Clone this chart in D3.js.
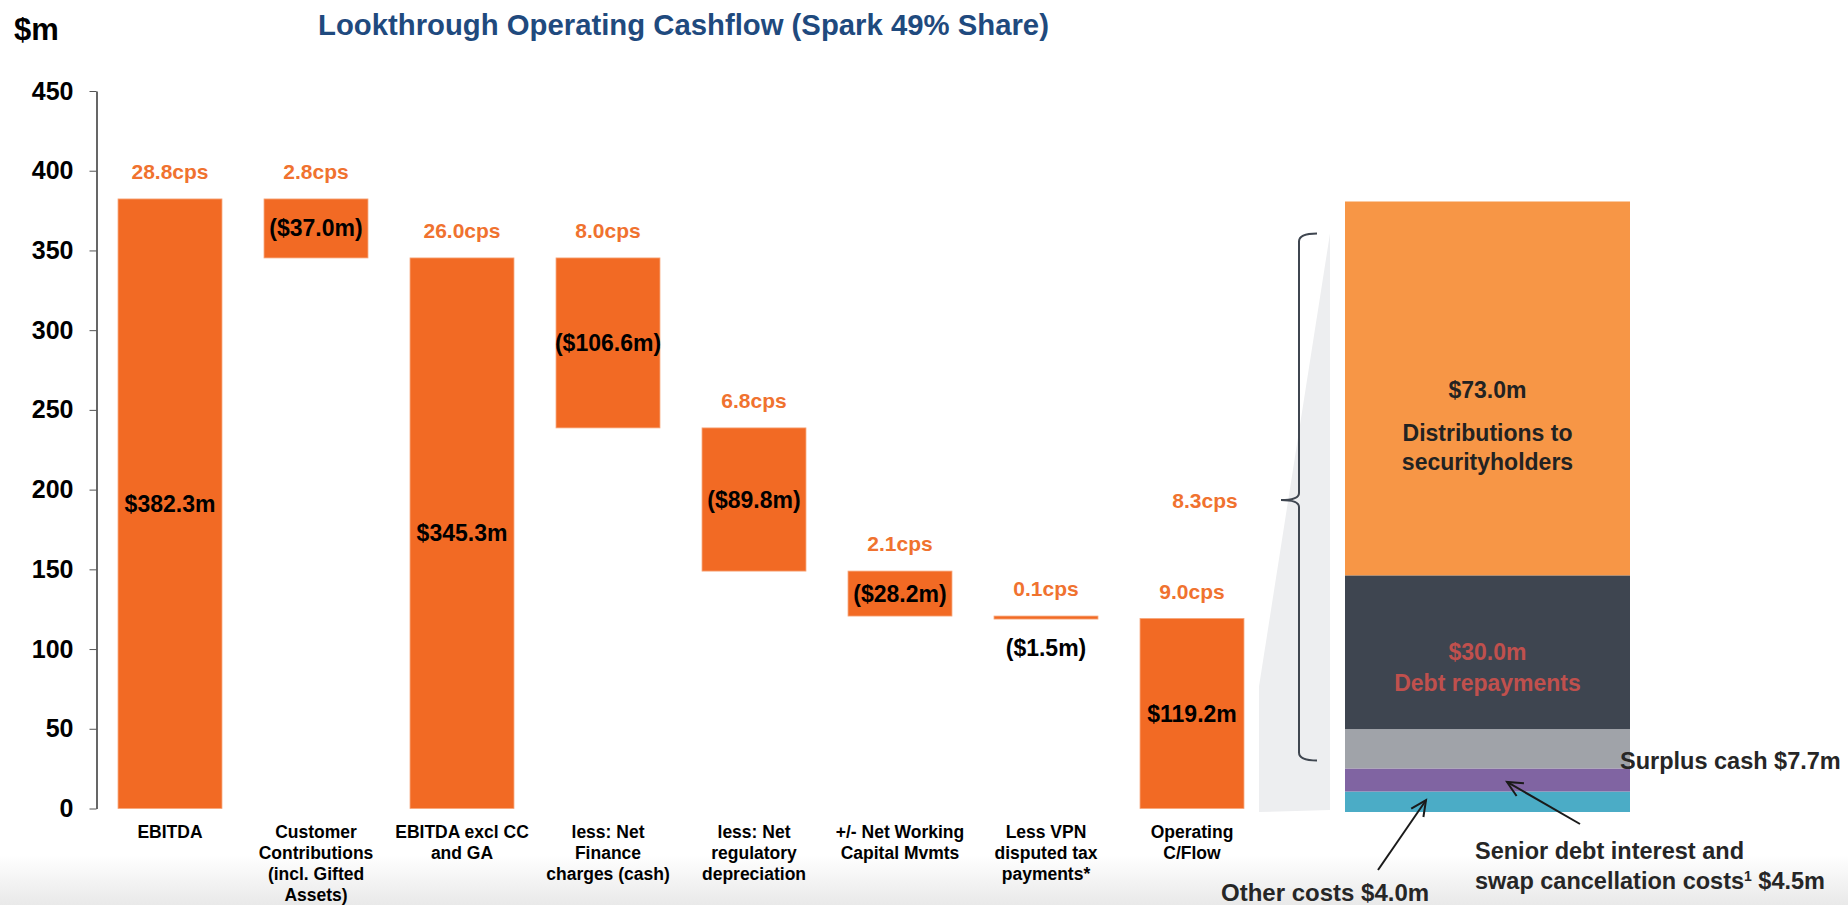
<!DOCTYPE html>
<html>
<head>
<meta charset="utf-8">
<script src="https://cdn.jsdelivr.net/npm/d3@7"></script>
<style>
  html, body { margin: 0; padding: 0; background: #ffffff; }
  svg { display: block; font-family: "Liberation Sans", Arial, Helvetica, sans-serif; }
  text { font-weight: bold; }
</style>
</head>
<body>
<svg id="chart" width="1848" height="905"></svg>
<script>
// ---------- data ----------
const categories = [
  ["EBITDA"],
  ["Customer", "Contributions", "(incl. Gifted", "Assets)"],
  ["EBITDA excl CC", "and GA"],
  ["less: Net", "Finance", "charges (cash)"],
  ["less: Net", "regulatory", "depreciation"],
  ["+/- Net Working", "Capital Mvmts"],
  ["Less VPN", "disputed tax", "payments*"],
  ["Operating", "C/Flow"]
];
const values = [382.3, -37.0, 345.3, -106.6, -89.8, -28.2, -1.5, 119.2];
const isTotal = [true, false, true, false, false, false, false, true];
const valueLabels = ["$382.3m", "($37.0m)", "$345.3m", "($106.6m)", "($89.8m)", "($28.2m)", "($1.5m)", "$119.2m"];
const cpsLabels = ["28.8cps", "2.8cps", "26.0cps", "8.0cps", "6.8cps", "2.1cps", "0.1cps", "9.0cps"];
const yTicks = [0, 50, 100, 150, 200, 250, 300, 350, 400, 450];

// breakdown of operating cash flow (bottom to top)
const segNames = ["Other costs", "Senior debt interest and swap cancellation costs", "Surplus cash", "Debt repayments", "Distributions to securityholders"];
const segValues = [4.0, 4.5, 7.7, 30.0, 73.0];
const segColors = ["#4BACC6", "#8064A2", "#A0A3A9", "#3E4550", "#F79646"];
const distLabel = "8.3cps";

// ---------- setup ----------
const svg = d3.select("#chart");
const W = 1848, H = 905;
const ORANGE = "#F26A24", ORANGE_TXT = "#F0722F";

// footer shading
const defs = svg.append("defs");
const grad = defs.append("linearGradient").attr("id", "foot").attr("x1", 0).attr("y1", 0).attr("x2", 0).attr("y2", 1);
grad.append("stop").attr("offset", "0%").attr("stop-color", "#ffffff");
grad.append("stop").attr("offset", "100%").attr("stop-color", "#e9e9e9");
svg.append("rect").attr("x", 0).attr("y", 855).attr("width", W).attr("height", 50).attr("fill", "url(#foot)");

// titles
svg.append("text").attr("x", 14).attr("y", 40).attr("font-size", 31).attr("fill", "#000").text("$m");
svg.append("text").attr("x", 318).attr("y", 35).attr("font-size", 29.3).attr("fill", "#1F4A7E")
  .text("Lookthrough Operating Cashflow (Spark 49% Share)");

// scales
const y = d3.scaleLinear().domain([0, 450]).range([808.5, 91]);
const x = d3.scaleBand().domain(d3.range(categories.length)).range([97, 1265])
  .paddingInner(0.288).paddingOuter(0.144);

// axis
const yAxis = d3.axisLeft(y).tickValues(yTicks).tickSize(7).tickSizeOuter(0).tickPadding(16);
const gAxis = svg.append("g").attr("transform", "translate(96.5,0)").call(yAxis);
gAxis.select(".domain").attr("stroke", "#000").attr("stroke-width", 1.2);
gAxis.selectAll(".tick line").attr("stroke", "#555").attr("stroke-width", 1);
gAxis.selectAll(".tick text").attr("font-size", 25).attr("font-weight", "bold").attr("fill", "#000")
  .attr("font-family", "\"Liberation Sans\", Arial, sans-serif");

// waterfall computation
let running = 0;
const bars = values.map((v, i) => {
  let lo, hi;
  if (isTotal[i]) { lo = 0; hi = v; running = v; }
  else { const start = running; running = start + v; lo = Math.min(start, running); hi = Math.max(start, running); }
  return { i, v, lo, hi };
});

// bars
svg.append("g").selectAll("rect").data(bars).join("rect")
  .attr("x", d => x(d.i))
  .attr("width", x.bandwidth())
  .attr("y", d => y(d.hi))
  .attr("height", d => Math.max(3, y(d.lo) - y(d.hi)))
  .attr("fill", ORANGE)
  .attr("stroke", "#F7A77C").attr("stroke-width", 0.8);

// cps labels
svg.append("g").selectAll("text").data(bars).join("text")
  .attr("x", d => x(d.i) + x.bandwidth() / 2)
  .attr("y", d => y(d.hi) - 27)
  .attr("dy", "0.35em")
  .attr("text-anchor", "middle").attr("font-size", 21).attr("fill", ORANGE_TXT)
  .text(d => cpsLabels[d.i]);

// value labels (thin bars get the label underneath)
svg.append("g").selectAll("text").data(bars).join("text")
  .attr("x", d => x(d.i) + x.bandwidth() / 2)
  .attr("y", d => (y(d.lo) - y(d.hi)) < 10 ? y(d.lo) + 30 : (y(d.hi) + y(d.lo)) / 2)
  .attr("dy", "0.35em")
  .attr("text-anchor", "middle").attr("font-size", 23).attr("fill", "#000")
  .text(d => valueLabels[d.i]);

// category labels
const catG = svg.append("g");
categories.forEach((lines, i) => {
  const t = catG.append("text").attr("text-anchor", "middle").attr("font-size", 17.5).attr("fill", "#000");
  lines.forEach((ln, k) => {
    t.append("tspan").attr("x", x(i) + x.bandwidth() / 2).attr("y", 832 + k * 21).attr("dy", "0.35em").text(ln);
  });
});

// ---------- breakdown stacked bar ----------
const total = d3.sum(segValues);
const yB = d3.scaleLinear().domain([0, total]).range([812, 201.5]);
const bx0 = 1345, bx1 = 1630;
const cum = d3.cumsum(segValues);
const segs = segValues.map((v, i) => ({ i, lo: cum[i] - v, hi: cum[i] }));

// zoom connector (light grey)
const opBar = bars[bars.length - 1];
svg.append("polygon")
  .attr("points", [[1259, y(opBar.hi) + 68], [1330, yB(total) + 32], [1330, yB(0) - 2], [1259, yB(0)]].map(p => p.join(",")).join(" "))
  .attr("fill", "#EDEEF0");

svg.append("g").selectAll("rect").data(segs).join("rect")
  .attr("x", bx0).attr("width", bx1 - bx0)
  .attr("y", d => yB(d.hi)).attr("height", d => yB(d.lo) - yB(d.hi))
  .attr("fill", d => segColors[d.i]);

// brace
const bTop = yB(segs[4].hi) + 32, bBot = yB(segs[2].lo) - 8, bMid = 500;
const bx = 1299;
const bracePath = `M${bx + 18},${bTop} Q${bx},${bTop} ${bx},${bTop + 8} L${bx},${bMid - 7} Q${bx},${bMid} ${bx - 18},${bMid} Q${bx},${bMid} ${bx},${bMid + 7} L${bx},${bBot - 8} Q${bx},${bBot} ${bx + 18},${bBot}`;
svg.append("path").attr("d", bracePath).attr("fill", "none").attr("stroke", "#3F4650").attr("stroke-width", 2);

svg.append("text").attr("x", 1205).attr("y", 501).attr("dy", "0.35em").attr("text-anchor", "middle")
  .attr("font-size", 21).attr("fill", ORANGE_TXT).text(distLabel);

const cx = (bx0 + bx1) / 2;
// distributions labels
const dMid = (yB(segs[4].lo) + yB(segs[4].hi)) / 2;
[["$" + segValues[4].toFixed(1) + "m", 2], ["Distributions to", 45], ["securityholders", 74]].forEach(([t, off]) => {
  svg.append("text").attr("x", cx).attr("y", dMid + off).attr("dy", "0.35em").attr("text-anchor", "middle")
    .attr("font-size", 23).attr("fill", "#222").text(t);
});
// debt repayments
const rMid = (yB(segs[3].lo) + yB(segs[3].hi)) / 2;
[["$" + segValues[3].toFixed(1) + "m", 0], ["Debt repayments", 31]].forEach(([t, off]) => {
  svg.append("text").attr("x", cx).attr("y", rMid + off).attr("dy", "0.35em").attr("text-anchor", "middle")
    .attr("font-size", 23).attr("fill", "#C0504D").text(t);
});
// surplus cash
svg.append("text").attr("x", 1620).attr("y", (yB(segs[2].lo) + yB(segs[2].hi)) / 2 + 12).attr("dy", "0.35em")
  .attr("font-size", 23.5).attr("fill", "#262626").text("Surplus cash $" + segValues[2].toFixed(1) + "m");

// other costs
svg.append("text").attr("x", 1221).attr("y", 893).attr("dy", "0.35em")
  .attr("font-size", 24).attr("fill", "#262626").text("Other costs $" + segValues[0].toFixed(1) + "m");
// senior debt
svg.append("text").attr("x", 1475).attr("y", 851).attr("dy", "0.35em")
  .attr("font-size", 23.5).attr("fill", "#262626").text("Senior debt interest and");
const sd = svg.append("text").attr("x", 1475).attr("y", 881).attr("dy", "0.35em")
  .attr("font-size", 23.5).attr("fill", "#262626");
sd.append("tspan").text("swap cancellation costs");
sd.append("tspan").attr("font-size", 14).attr("dy", -8).text("1");
sd.append("tspan").attr("dy", 8).text(" $" + segValues[1].toFixed(1) + "m");

// arrows
function arrow(x1, y1, x2, y2) {
  const g = svg.append("g").attr("stroke", "#1a1a1a").attr("stroke-width", 2).attr("fill", "none");
  g.append("line").attr("x1", x1).attr("y1", y1).attr("x2", x2).attr("y2", y2);
  const a = Math.atan2(y2 - y1, x2 - x1), L = 17, s = 0.45;
  const p1 = [x2 - L * Math.cos(a - s), y2 - L * Math.sin(a - s)];
  const p2 = [x2 - L * Math.cos(a + s), y2 - L * Math.sin(a + s)];
  g.append("path").attr("d", `M${p1[0]},${p1[1]} L${x2},${y2} L${p2[0]},${p2[1]}`);
}
arrow(1378, 870, 1426, yB(segs[0].lo + 2.3));
arrow(1580, 824, 1507, (yB(segs[1].lo) + yB(segs[1].hi)) / 2 + 2);
</script>
</body>
</html>
